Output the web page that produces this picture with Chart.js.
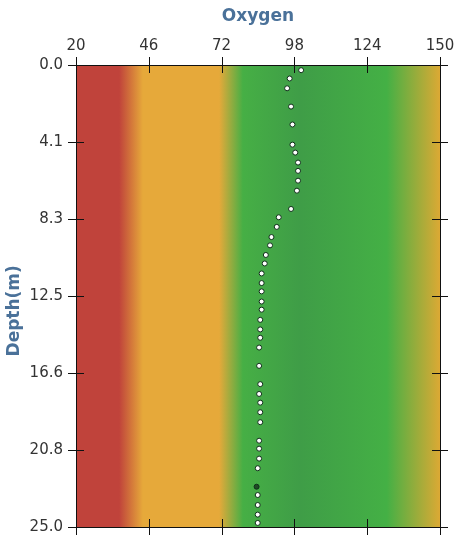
<!DOCTYPE html>
<html>
<head>
<meta charset="utf-8">
<script src="https://cdn.jsdelivr.net/npm/chart.js@4/dist/chart.umd.min.js"></script>
<style>
    html, body { margin: 0; padding: 0; background: #ffffff; }
    #wrap { width: 462px; height: 541px; }
</style>
</head>
<body>
<div id="wrap"><canvas id="myChart"></canvas></div>
<script>
// valori (ossigeno vs profondita')
const oxygen = [100.4, 96.3, 95.4, 96.8, 97.3, 97.3, 98.3, 99.3, 99.3, 99.3, 98.9, 96.8,
    92.4, 91.7, 89.8, 89.3, 87.8, 87.4, 86.3, 86.3, 86.3, 86.3, 86.3, 85.8, 85.8, 85.8,
    85.4, 85.4, 85.8, 85.4, 85.8, 85.8, 85.8, 85.4, 85.4, 85.4, 84.9, 84.5, 84.9, 84.9,
    84.9, 84.9];
const depth = [0.28, 0.73, 1.26, 2.25, 3.22, 4.31, 4.74, 5.28, 5.73, 6.26, 6.80, 7.79,
    8.24, 8.76, 9.31, 9.76, 10.28, 10.74, 11.28, 11.80, 12.25, 12.80, 13.24, 13.79, 14.31, 14.76,
    15.29, 16.28, 17.27, 17.80, 18.27, 18.79, 19.33, 20.33, 20.76, 21.30, 21.82, 22.82, 23.27, 23.81,
    24.33, 24.78];

const xTicks = [20, 46, 72, 98, 124, 150];
const yTickLabels = ['0.0', '4.1', '8.3', '12.5', '16.6', '20.8', '25.0'];
const highlighted = 37; // il punto scuro

// fasce di colore dello sfondo: [valore ossigeno, colore]
const bands = [
    [20, '#c0433b'], [35.4, '#c0433b'], [43.9, '#e6a93a'], [71.1, '#e6a93a'],
    [79.6, '#46af45'], [100, '#3f9d47'], [131, '#44b045'], [150, '#dca934']
];

const points = oxygen.map((v, i) => ({ x: v, y: depth[i] }));

const labelColor = '#333333';
const titleColor = '#4a7199';
const tickLen = 8;

// sfondo a gradiente + tacche che attraversano gli assi
const decor = {
    id: 'decor',
    beforeDatasetsDraw(chart) {
        const { ctx, chartArea: a, scales: { x } } = chart;
        const g = ctx.createLinearGradient(x.getPixelForValue(20), 0, x.getPixelForValue(150), 0);
        bands.forEach(b => g.addColorStop((b[0] - 20) / 130, b[1]));
        ctx.save();
        ctx.fillStyle = g;
        ctx.fillRect(a.left, a.top, a.right - a.left, a.bottom - a.top);
        ctx.restore();
    },
    afterDraw(chart) {
        const { ctx, chartArea: a, scales: { x, y } } = chart;
        ctx.save();
        ctx.strokeStyle = '#111111';
        ctx.lineWidth = 1;
        ctx.beginPath();
        // bordi
        ctx.moveTo(a.left - tickLen, a.top + 0.5); ctx.lineTo(a.right + tickLen, a.top + 0.5);
        ctx.moveTo(a.left - tickLen, a.bottom + 0.5); ctx.lineTo(a.right + tickLen, a.bottom + 0.5);
        ctx.moveTo(a.left + 0.5, a.top - tickLen); ctx.lineTo(a.left + 0.5, a.bottom + tickLen);
        ctx.moveTo(a.right + 0.5, a.top - tickLen); ctx.lineTo(a.right + 0.5, a.bottom + tickLen);
        x.ticks.forEach((t, i) => {
            const px = Math.round(x.getPixelForTick(i)) + 0.5;
            ctx.moveTo(px, a.top - tickLen); ctx.lineTo(px, a.top + tickLen);
            ctx.moveTo(px, a.bottom - tickLen); ctx.lineTo(px, a.bottom + tickLen);
        });
        y.ticks.forEach((t, i) => {
            const py = Math.round(y.getPixelForTick(i)) + 0.5;
            ctx.moveTo(a.left - tickLen, py); ctx.lineTo(a.left + tickLen, py);
            ctx.moveTo(a.right - tickLen, py); ctx.lineTo(a.right + tickLen, py);
        });
        ctx.stroke();
        ctx.restore();
    }
};

const ctx = document.getElementById('myChart').getContext('2d');
const myChart = new Chart(ctx, {
    type: 'scatter',
    data: {
        datasets: [{
            label: 'Oxygen',
            data: points,
            pointRadius: 2.5,
            pointBorderWidth: 1,
            pointBorderColor: '#10301a',
            pointBackgroundColor: c => c.dataIndex === highlighted ? '#1f4a25' : '#ffffff',
        }]
    },
    options: {
        responsive: true,
        maintainAspectRatio: false,
        animation: false,
        layout: { padding: { left: 0, right: 22, top: 0, bottom: 14 } },
        plugins: { legend: { display: false }, tooltip: { enabled: false } },
        scales: {
            x: {
                type: 'linear',
                position: 'top',
                min: 20,
                max: 150,
                afterBuildTicks: s => { s.ticks = xTicks.map(v => ({ value: v })); },
                afterFit: s => { s.height = 65; s.paddingLeft = 0; s.paddingRight = 0; },
                grid: { display: false, drawTicks: false },
                border: { display: false },
                ticks: {
                    padding: 10,
                    color: labelColor,
                    font: { family: 'DejaVu Sans', size: 15 },
                    maxRotation: 0,
                },
                title: {
                    display: true,
                    text: 'Oxygen',
                    color: titleColor,
                    font: { family: 'DejaVu Sans', size: 17, weight: 'bold' },
                    padding: { top: 6, bottom: 2 },
                }
            },
            y: {
                type: 'linear',
                reverse: true,
                min: 0,
                max: 25,
                afterBuildTicks: s => { s.ticks = yTickLabels.map((l, i) => ({ value: i * 25 / 6 })); },
                afterFit: s => { s.width = 76; s.paddingTop = 0; s.paddingBottom = 0; },
                grid: { display: false, drawTicks: false },
                border: { display: false },
                ticks: {
                    padding: 13,
                    color: labelColor,
                    font: { family: 'DejaVu Sans', size: 15 },
                    callback: (v, i) => yTickLabels[i],
                },
                title: {
                    display: true,
                    // spazi finali per spostare il titolo verso il basso come nell'originale
                    text: 'Depth(m)     ',
                    color: titleColor,
                    font: { family: 'DejaVu Sans', size: 17, weight: 'bold' },
                    padding: { top: 4, bottom: 0 },
                }
            }
        }
    },
    plugins: [decor]
});
</script>
</body>
</html>
